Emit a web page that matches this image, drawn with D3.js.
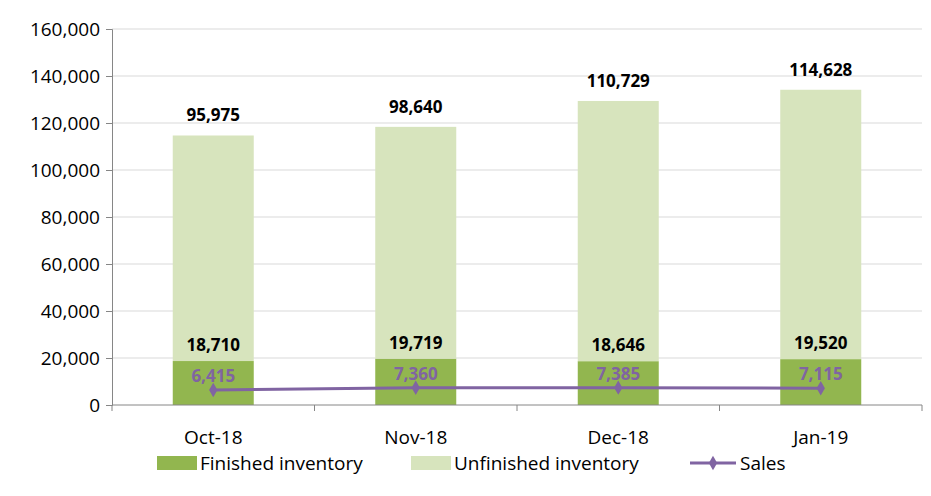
<!DOCTYPE html>
<html><head><meta charset="utf-8">
<script src="https://cdn.jsdelivr.net/npm/d3@7"></script>
<style>body{margin:0;background:#fff}text{font-family:"Open Sans",sans-serif}</style>
</head><body><div id="chart"></div>
<script>
var months = ["Oct-18", "Nov-18", "Dec-18", "Jan-19"];
var finished = [18710, 19719, 18646, 19520];
var unfinished = [95975, 98640, 110729, 114628];
var sales = [6415, 7360, 7385, 7115];
var yTicks = [0, 20000, 40000, 60000, 80000, 100000, 120000, 140000, 160000];

var W = 931, H = 496;
var margin = {top: 29, right: 9, bottom: 91, left: 112};
var width = W - margin.left - margin.right, height = H - margin.top - margin.bottom;

var svg = d3.select("#chart").append("svg").attr("width", W).attr("height", H)
  .append("g").attr("transform", "translate(" + margin.left + "," + margin.top + ")");

var x = d3.scaleBand().domain(months).range([0, width]).paddingInner(0.6).paddingOuter(0.3);
var y = d3.scaleLinear().domain([0, 160000]).range([height, 0]);
var fmt = d3.format(",");

// grid
svg.selectAll(".grid").data(yTicks.slice(1)).enter().append("line")
  .attr("x1", 0).attr("x2", width).attr("y1", d => y(d)).attr("y2", d => y(d))
  .style("stroke", "#d9d9d9");

// y axis
var ya = svg.append("g").call(d3.axisLeft(y).tickValues(yTicks).tickFormat(fmt).tickSize(6).tickPadding(6));
ya.selectAll("text").style("font-size", "19px").style("fill", "#000");
ya.selectAll("line,path").style("stroke", "#868686");

// bars
svg.selectAll(".fin").data(months).enter().append("rect")
  .attr("x", d => x(d)).attr("width", x.bandwidth())
  .attr("y", (d, i) => y(finished[i])).attr("height", (d, i) => height - y(finished[i]))
  .style("fill", "#92b64f");
svg.selectAll(".unf").data(months).enter().append("rect")
  .attr("x", d => x(d)).attr("width", x.bandwidth())
  .attr("y", (d, i) => y(finished[i] + unfinished[i]))
  .attr("height", (d, i) => y(finished[i]) - y(finished[i] + unfinished[i]))
  .style("fill", "#d7e4bd");

// x axis
var step = x.step();
svg.append("line").attr("x1", 0).attr("x2", width).attr("y1", height).attr("y2", height).style("stroke", "#868686");
svg.selectAll(".xt").data(d3.range(months.length + 1)).enter().append("line")
  .attr("x1", i => i * step).attr("x2", i => i * step)
  .attr("y1", height).attr("y2", height + 6).style("stroke", "#868686");
svg.selectAll(".xl").data(months).enter().append("text")
  .attr("x", d => x(d) + x.bandwidth() / 2).attr("y", height + 39)
  .attr("text-anchor", "middle").style("font-size", "19px").text(d => d);

// labels
svg.selectAll(".tl").data(months).enter().append("text")
  .attr("x", d => x(d) + x.bandwidth() / 2).attr("y", (d, i) => y(finished[i] + unfinished[i]) - 14)
  .attr("text-anchor", "middle").style("font-size", "17px").style("font-weight", "bold").text((d, i) => fmt(unfinished[i]));
svg.selectAll(".fl").data(months).enter().append("text")
  .attr("x", d => x(d) + x.bandwidth() / 2).attr("y", (d, i) => y(finished[i]) - 10)
  .attr("text-anchor", "middle").style("font-size", "17px").style("font-weight", "bold").text((d, i) => fmt(finished[i]));

// sales line
var line = d3.line().x((d, i) => x(months[i]) + x.bandwidth() / 2).y(d => y(d));
svg.append("path").datum(sales).attr("d", line).style("fill", "none").style("stroke", "#8064a2").style("stroke-width", 3);
svg.selectAll(".pt").data(sales).enter().append("path")
  .attr("d", d3.symbol().type(d3.symbolDiamond).size(60))
  .attr("transform", (d, i) => "translate(" + (x(months[i]) + x.bandwidth() / 2) + "," + y(d) + ")")
  .style("fill", "#8064a2");
svg.selectAll(".sl").data(sales).enter().append("text")
  .attr("x", (d, i) => x(months[i]) + x.bandwidth() / 2).attr("y", d => y(d) - 8)
  .attr("text-anchor", "middle").style("font-size", "17px").style("font-weight", "bold")
  .style("fill", "#8064a2").text(d => fmt(d));

// legend
var lg = d3.select("svg").append("g").attr("transform", "translate(0,463)");
lg.append("rect").attr("x", 157).attr("y", -7).attr("width", 40).attr("height", 14).style("fill", "#92b64f");
lg.append("text").attr("x", 200).attr("y", 7).style("font-size", "19px").text("Finished inventory");
lg.append("rect").attr("x", 411).attr("y", -7).attr("width", 40).attr("height", 14).style("fill", "#d7e4bd");
lg.append("text").attr("x", 454).attr("y", 7).style("font-size", "19px").text("Unfinished inventory");
lg.append("line").attr("x1", 690).attr("x2", 736).attr("y1", 0).attr("y2", 0).style("stroke", "#8064a2").style("stroke-width", 3);
lg.append("path").attr("d", d3.symbol().type(d3.symbolDiamond).size(60)).attr("transform", "translate(713,0)").style("fill", "#8064a2");
lg.append("text").attr("x", 740).attr("y", 7).style("font-size", "19px").text("Sales");
</script></body></html>
